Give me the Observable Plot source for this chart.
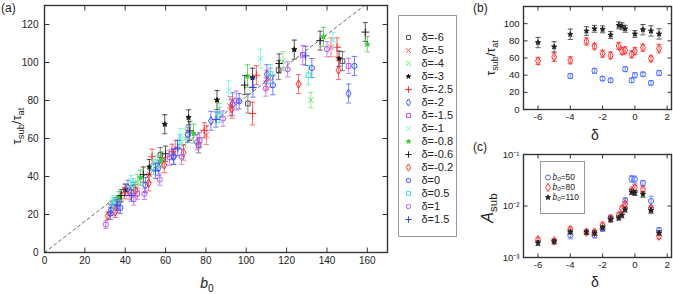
<!DOCTYPE html>
<html><head><meta charset="utf-8">
<script src="https://cdn.jsdelivr.net/npm/d3@7"></script>
<script src="https://cdn.jsdelivr.net/npm/@observablehq/plot@0.6"></script>
<style>
body{margin:0;background:#fff;}
#fig{position:relative;width:673px;height:294px;overflow:hidden;font-family:"Liberation Sans",Arial,sans-serif;color:#222;background:#fff;}
.pane{position:absolute;}
.lbl{position:absolute;white-space:nowrap;transform:translate(-50%,-50%);line-height:1;}
.rot{transform:translate(-50%,-50%) rotate(-90deg);}
.lbl sub{font-size:72%;vertical-align:-0.35em;line-height:0;}
.plab{position:absolute;font-size:12px;line-height:1;}
</style></head><body><div id="fig"></div>
<script>
// ---------- DATA ----------
const deltas = [-6, -5, -4, -3, -2.5, -2, -1.5, -1, -0.8, -0.6, -0.2, 0, 0.5, 1, 1.5];

// Panel (a): [b0, tau_sub/tau_at, error] per delta
const s_m6  = [[35,26,3],[44,34,3],[57.4,51.3,4],[76.4,56.4,4],[100.8,78.4,5],[116,96,5],[147.7,100.7,5]];
const s_m5  = [[33,24,3],[42,31,3],[52,41,4],[65,55,4],[80.2,61.8,5],[92,77,5],[110,91,5],[142,108,5]];
const s_m4  = [[36,27,3],[46,37,4],[56,47,4],[70,60,5],[86.6,73.5,5],[118.2,100.7,5],[132,80.2,4]];
const s_m3  = [[40,33,3],[52,45,4],[59.6,67.5,5],[71.4,71.1,4],[85.5,80.2,5],[103.1,92,5],[123.8,106.8,5],[146,102,4]];
const s_m25 = [[39.6,31.3,3],[53.3,50.4,4],[63.2,53,4],[79.2,64.3,4],[103.1,73.1,6],[105,93.3,5],[145,108,5]];
const s_m2  = [[33,22.5,3],[41.4,34,4],[56.6,44.6,4],[64,50.4,4],[82.5,69.3,5],[93.2,78,6],[110.2,93.8,5],[150.7,83.7,5]];
const s_m15 = [[36,24,3],[46,31,3],[62,50,4],[76.9,59.1,4],[95,80,5],[112,92,5],[128,104,5],[150.7,98.2,4]];
const s_m1  = [[34,27,3],[43,37.5,3],[55,47,4],[67.3,61.2,4],[91.3,85.4,5],[107,102,5],[143,111.7,4]];
const s_m08 = [[37,29,3],[47.5,39.4,4],[58,49,4],[73.9,62.6,5],[100.6,92.8,6],[138.3,113.5,5],[160,109.6,4]];
const s_m06 = [[38,30,3],[49,41,4],[60,52,4],[72,64,5],[99.2,88.1,5],[116.3,99.5,5],[136.6,111.5,5],[159,116,5]];
const s_m02 = [[31.4,19.3,2],[35,21.4,3],[45,32.8,3],[51.6,36.4,4],[59.4,46,4],[68.9,52.6,4],[92.9,75.7,5],[125.9,88.6,5],[145.7,96,5]];
const s_0   = [[32.7,20.5,3],[37.6,23.5,3],[50,35.5,4],[64,50.4,4],[71.1,62,4],[96.5,79.6,4],[113.2,88,5],[132.5,97.1,5],[153.6,98.2,5]];
const s_05  = [[34,26,3],[44,36,3],[54,45,4],[67,58,4],[86.8,72.3,4],[112,94,5],[130.8,93.3,5]];
const s_1   = [[30.4,14.7,2],[44.2,27.9,3],[49.5,30.9,3],[57.1,38.4,3],[68,50.4,4],[75.6,58,4],[88.5,70.5,4],[109.7,86.3,4],[120.5,96.4,4],[140,107,4]];
const s_15  = [[36,25,3],[43,30,3],[55,43,4],[66,55,4],[85,70,4],[103.3,86.8,5],[129.4,103.5,5]];
const seriesA = [s_m6,s_m5,s_m4,s_m3,s_m25,s_m2,s_m15,s_m1,s_m08,s_m06,s_m02,s_0,s_05,s_1,s_15];
const refSlope = 0.82;           // dashed reference line tau = refSlope * b0
const xTicksA = [0,20,40,60,80,100,120,140,160];
const yTicksA = [0,20,40,60,80,100,120];

// Panel (b): tau vs delta for b0 = 50, 80, 110
const tau50  = [null,null,39,null,45,36,34,null,null,47,34,40,41,31,42.5];
const err50  = [null,null,3,null,3,2.5,2.5,null,null,3,2.5,3,2.5,2.5,3];
const tau80  = [56.5,61,57.3,79.4,73.6,65,63,74,68,69,64.3,68,72,59.3,71];
const err80  = [4,5,4,4,3,4,4,4,4,4,4,4,4,3,5];
const tau110 = [78,73,87.6,91.4,94,93.4,86.8,98,97,94,null,88,93,91.5,88];
const err110 = [6,6,6,5,4,4,4,4,4,4,null,4,6,6,6];
const xTicksB = [-6,-4,-2,0,2];
const yTicksB = [0,20,40,60,80,100];

// Panel (c): A_sub vs delta
const A50    = [null,null,2.7e-3,null,2.7e-3,3.6e-3,5.9e-3,null,null,1.27e-2,3.38e-2,3.3e-2,2.8e-2,1.25e-2,3.4e-3];
const eA50   = [null,null,4e-4,null,3e-4,4e-4,8e-4,null,null,1.8e-3,5e-3,5e-3,3e-3,3e-3,4e-4];
const A80    = [2.2e-3,2.1e-3,3.5e-3,3.1e-3,3.1e-3,4.2e-3,5.7e-3,6.6e-3,8.9e-3,1.1e-2,2.0e-2,2.27e-2,2.1e-2,9e-3,2.6e-3];
const eA80   = [2e-4,2e-4,4e-4,3e-4,3e-4,5e-4,7e-4,8e-4,1e-3,1.2e-3,2e-3,3e-3,2.5e-3,1.2e-3,3e-4];
const A110   = [1.92e-3,2.04e-3,3.14e-3,3.1e-3,3.0e-3,3.8e-3,5.5e-3,5.9e-3,6.6e-3,8.5e-3,1.87e-2,1.8e-2,1.68e-2,8.2e-3,3.0e-3];
const eA110  = [2e-4,2e-4,3e-4,3e-4,3e-4,4e-4,6e-4,6e-4,7e-4,9e-4,2e-3,2e-3,2e-3,1e-3,3e-4];
const yTicksC = [1e-3,1e-2,1e-1];
const b0Legend = [50, 80, 110];

// ---------- STYLES ----------
const colorsA  = ["#555","#ff4a4a","#6fe06f","#111","#ff2a2a","#3b5cff","#c24cff","#6ff0e0","#2fcc2f","#222","#ff3030","#3355ff","#45e0cf","#b452f2","#3344ee"];
const symbolsA = ["square","times","times","star","plus","diamond","square","times","star","plus","diamond","circle","square","circle","plus"];
const filledA  = [false,false,false,true,false,false,false,false,true,false,false,false,false,false,false];
const colB = ["#4d6dff","#ff3030","#222"];
const symB = ["circle","diamond","star"];
const fillB = [false,false,true];
const frameColor = "#333";
const fontFam = '"Liberation Sans", Arial, sans-serif';

// ---------- HELPERS ----------
const seg = (x1,y1,x2,y2) => ({draw(c){ c.moveTo(x1,y1); c.lineTo(x2,y2); }});
const cap = seg(-2.6,0,2.6,0);
const symR = (sym, r) => sym === "star" ? r * 0.62 : r;

function boxMarks(xTicks, yTicks, len) {
  return [
    Plot.frame({stroke: frameColor, strokeWidth: 1.4}),
    Plot.dot(xTicks, {x: d => d, frameAnchor: "bottom", symbol: seg(0,0,0,-len), stroke: frameColor, fill: "none", strokeWidth: 1}),
    Plot.dot(xTicks, {x: d => d, frameAnchor: "top", symbol: seg(0,0,0,len), stroke: frameColor, fill: "none", strokeWidth: 1}),
    Plot.dot(yTicks, {y: d => d, frameAnchor: "left", symbol: seg(0,0,len,0), stroke: frameColor, fill: "none", strokeWidth: 1}),
    Plot.dot(yTicks, {y: d => d, frameAnchor: "right", symbol: seg(0,0,-len,0), stroke: frameColor, fill: "none", strokeWidth: 1})
  ];
}
function seriesMarks(rows, col, sym, filled, r) {
  const eb = {stroke: col, strokeOpacity: 0.72, strokeWidth: 1, fill: "none"};
  return [
    Plot.ruleX(rows, {x: "x", y1: d => d.y - d.e, y2: d => d.y + d.e, ...eb}),
    Plot.dot(rows, {x: "x", y: d => d.y - d.e, symbol: cap, ...eb}),
    Plot.dot(rows, {x: "x", y: d => d.y + d.e, symbol: cap, ...eb}),
    Plot.dot(rows, {x: "x", y: "y", symbol: sym, r: symR(sym, r), stroke: col, fill: filled ? col : "none", strokeWidth: 1})
  ];
}
const rowsOf = (xs, ys, es) => xs.map((x, i) => ({x, y: ys[i], e: es[i]})).filter(d => d.y != null);
const baseStyle = (fs) => ({background: "transparent", fontFamily: fontFam, fontSize: fs, color: "#222", overflow: "visible"});
const fmtInt = d => String(d);
const supMap = {"-":"⁻","0":"⁰","1":"¹","2":"²","3":"³","4":"⁴","5":"⁵","6":"⁶","7":"⁷","8":"⁸","9":"⁹"};
const fmtPow = d => "10" + String(Math.round(Math.log10(d))).split("").map(c => supMap[c]).join("");

const fig = document.getElementById("fig");
function place(node, left, top) {
  const w = document.createElement("div");
  w.className = "pane";
  w.style.left = left + "px"; w.style.top = top + "px";
  w.appendChild(node);
  fig.appendChild(w);
  return w;
}
function label(html, cx, cy, size, rot) {
  const d = document.createElement("div");
  d.className = "lbl" + (rot ? " rot" : "");
  d.style.left = cx + "px"; d.style.top = cy + "px"; d.style.fontSize = size + "px";
  d.innerHTML = html;
  fig.appendChild(d);
}
function panelLabel(t, x, y) {
  const d = document.createElement("div");
  d.className = "plab"; d.style.left = x + "px"; d.style.top = y + "px"; d.textContent = t;
  fig.appendChild(d);
}

// ---------- PANEL (b) ----------
const bRows = [rowsOf(deltas, tau50, err50), rowsOf(deltas, tau80, err80), rowsOf(deltas, tau110, err110)];
const plotB = Plot.plot({
  width: 223, height: 140, marginLeft: 73, marginRight: 2, marginTop: 6, marginBottom: 31,
  style: baseStyle("9.5px"),
  x: {domain: [-6.9, 2.27], label: null},
  y: {domain: [0, 120], label: null},
  marks: [
    Plot.axisX({ticks: xTicksB, tickSize: 0, tickPadding: 4, tickFormat: fmtInt, label: null}),
    Plot.axisY({ticks: yTicksB, tickSize: 0, tickPadding: 4, tickFormat: fmtInt, label: null}),
    ...boxMarks(xTicksB, yTicksB, 4),
    ...bRows.flatMap((rows, k) => seriesMarks(rows, colB[k], symB[k], fillB[k], 2.6))
  ]
});
place(plotB, 450, 0);

// ---------- PANEL (c) ----------
const cRows = [rowsOf(deltas, A50, eA50), rowsOf(deltas, A80, eA80), rowsOf(deltas, A110, eA110)];
const plotC = Plot.plot({
  width: 223, height: 154, marginLeft: 73, marginRight: 2, marginTop: 14, marginBottom: 37,
  style: baseStyle("9.5px"),
  x: {domain: [-6.9, 2.27], label: null},
  y: {type: "log", domain: [1e-3, 1e-1], label: null},
  marks: [
    Plot.axisX({ticks: xTicksB, tickSize: 0, tickPadding: 4, tickFormat: fmtInt, label: null}),
    Plot.axisY({ticks: yTicksC, tickSize: 0, tickPadding: 4, tickFormat: fmtPow, label: null}),
    ...boxMarks(xTicksB, yTicksC, 4),
    ...cRows.flatMap((rows, k) => seriesMarks(rows, colB[k], symB[k], fillB[k], 2.6))
  ]
});
place(plotC, 450, 140);

// legend (c)
const legC = Plot.plot({
  width: 44, height: 52, margin: 0, style: baseStyle("8.5px"),
  x: {domain: [0, 1], axis: null},
  y: {type: "point", domain: b0Legend, range: [9.5, 41.5], axis: null},
  marks: [
    Plot.frame({stroke: "#999", strokeWidth: 1}),
    ...b0Legend.map((b, k) => Plot.dot([b], {y: d => d, frameAnchor: "left", dx: 7.5, symbol: symB[k], r: symR(symB[k], 2.5), stroke: colB[k], fill: fillB[k] ? colB[k] : "none", strokeWidth: 1})),
    Plot.text(b0Legend, {y: d => d, text: () => "b₀", frameAnchor: "left", dx: 12, textAnchor: "start", fontStyle: "italic", fill: "#222"}),
    Plot.text(b0Legend, {y: d => d, text: d => "=" + d, frameAnchor: "left", dx: 20, textAnchor: "start", fill: "#222"})
  ]
});
place(legC, 540, 161);

// ---------- PANEL (a) ----------
const aMarks = seriesA.flatMap((s, i) => seriesMarks(s.map(([x, y, e]) => ({x, y, e})), colorsA[i], symbolsA[i], filledA[i], 2.6));
const plotA = Plot.plot({
  width: 390, height: 294, marginLeft: 44, marginRight: 3, marginTop: 5, marginBottom: 42,
  style: baseStyle("10px"),
  x: {domain: [0, 170], label: null},
  y: {domain: [0, 130], label: null},
  marks: [
    Plot.axisX({ticks: xTicksA, tickSize: 0, tickPadding: 4, tickFormat: fmtInt, label: null}),
    Plot.axisY({ticks: yTicksA, tickSize: 0, tickPadding: 6, tickFormat: fmtInt, label: null}),
    Plot.line([0, 170], {x: d => d, y: d => refSlope * d, stroke: "#444", strokeWidth: 0.8, strokeDasharray: "3,3", clip: true}),
    ...aMarks,
    ...boxMarks(xTicksA, yTicksA, 5)
  ]
});
place(plotA, 0, 0);

// legend (a)
const legA = Plot.plot({
  width: 58, height: 221, margin: 0, style: baseStyle("11px"),
  x: {domain: [0, 1], axis: null},
  y: {type: "point", domain: deltas, range: [9, 216], axis: null},
  marks: [
    Plot.frame({stroke: "#999", strokeWidth: 1}),
    ...deltas.map((dl, i) => Plot.dot([dl], {y: d => d, frameAnchor: "left", dx: 10, symbol: symbolsA[i], r: symR(symbolsA[i], 2.2), stroke: colorsA[i], fill: filledA[i] ? colorsA[i] : "none", strokeWidth: 1})),
    Plot.text(deltas, {y: d => d, text: d => "δ=" + d, frameAnchor: "left", dx: 23, textAnchor: "start", fill: "#222"})
  ]
});
place(legA, 398, 15);

// ---------- TEXT LABELS ----------
panelLabel("(a)", 1, 2);
panelLabel("(b)", 473, 2);
panelLabel("(c)", 473, 141);
label("<i>b</i><sub>0</sub>", 207, 283, 14, false);
label("τ<sub>sub</sub>/τ<sub>at</sub>", 16, 126, 13, true);
label("τ<sub>sub</sub>/τ<sub>at</sub>", 491, 58, 12.5, true);
label("δ", 595, 135, 14, false);
label("<i>A</i><sub>sub</sub>", 488, 208, 16, true);
label("δ", 595, 282, 14, false);
</script></body></html>
